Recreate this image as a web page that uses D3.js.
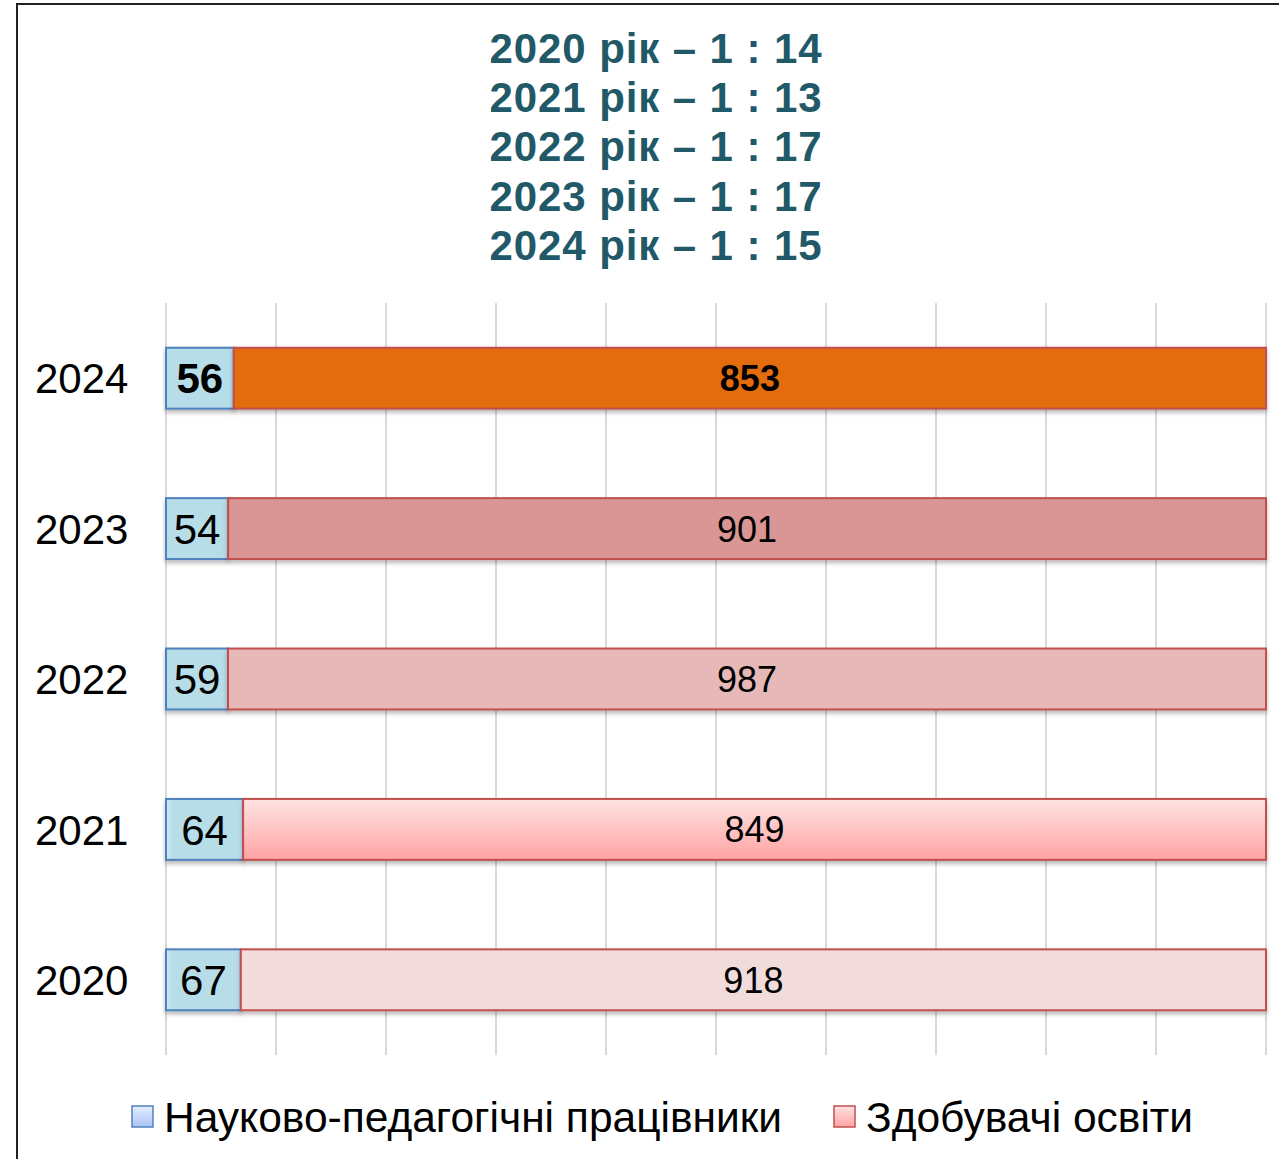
<!DOCTYPE html>
<html><head><meta charset="utf-8">
<script src="https://cdn.jsdelivr.net/npm/d3@7"></script>
<style>html,body{margin:0;padding:0;background:#fff;}svg{display:block;font-family:"Liberation Sans",Arial,sans-serif;}</style>
</head><body>
<svg id="c" width="1279" height="1159"></svg>
<script>
const years = ["2024","2023","2022","2021","2020"];
const staff = [56, 54, 59, 64, 67];
const students = [853, 901, 987, 849, 918];
const titleLines = ["2020 рік – 1 : 14","2021 рік – 1 : 13","2022 рік – 1 : 17","2023 рік – 1 : 17","2024 рік – 1 : 15"];
const seriesNames = ["Науково-педагогічні працівники","Здобувачі освіти"];
const studentFills = ["#e36c0a","#d99694","#e6b9b8","url(#g2021)","#f2dcdb"];
const pctTicks = [0,0.1,0.2,0.3,0.4,0.5,0.6,0.7,0.8,0.9,1];

const svg = d3.select("#c");
const defs = svg.append("defs");
const g21 = defs.append("linearGradient").attr("id","g2021").attr("x1",0).attr("y1",0).attr("x2",0).attr("y2",1);
g21.append("stop").attr("offset","0%").attr("stop-color","#ffe3e3");
g21.append("stop").attr("offset","100%").attr("stop-color","#ffa3a3");
const gb = defs.append("linearGradient").attr("id","gBlueLeg").attr("x1",0).attr("y1",0).attr("x2",0).attr("y2",1);
gb.append("stop").attr("offset","0%").attr("stop-color","#e6eeff");
gb.append("stop").attr("offset","100%").attr("stop-color","#a9c3f5");
const gr = defs.append("linearGradient").attr("id","gRedLeg").attr("x1",0).attr("y1",0).attr("x2",0).attr("y2",1);
gr.append("stop").attr("offset","0%").attr("stop-color","#ffe3e3");
gr.append("stop").attr("offset","100%").attr("stop-color","#ffa3a3");
const gbs = defs.append("linearGradient").attr("id","gBlueSide").attr("x1",0).attr("y1",0).attr("x2",1).attr("y2",0);
gbs.append("stop").attr("offset","0%").attr("stop-color","#d4e6fb");
gbs.append("stop").attr("offset","8%").attr("stop-color","#b7dde8");
gbs.append("stop").attr("offset","92%").attr("stop-color","#b7dde8");
gbs.append("stop").attr("offset","100%").attr("stop-color","#c9dcfa");
const f = defs.append("filter").attr("id","sh").attr("x","-5%").attr("y","-20%").attr("width","110%").attr("height","150%");
f.append("feDropShadow").attr("dx",0).attr("dy",3).attr("stdDeviation",2).attr("flood-color","#000").attr("flood-opacity",0.28);

// frame
svg.append("rect").attr("x",17).attr("y",4).attr("width",1275).attr("height",1170)
  .attr("fill","#fff").attr("stroke","#222").attr("stroke-width",2);

// title
svg.append("g").selectAll("text").data(titleLines).join("text")
  .attr("x",656).attr("y",(d,i)=>63+i*49.2).attr("text-anchor","middle")
  .attr("font-size",42).attr("letter-spacing","0.9px").attr("font-weight","bold").attr("fill","#215968").text(d=>d);

const x = d3.scaleLinear().domain([0,1]).range([166,1266]);
const y = d3.scaleBand().domain(years).range([303,1055]).paddingInner(0.595).paddingOuter(0.2975);

// grid
svg.append("g").selectAll("line").data(pctTicks).join("line")
  .attr("x1",d=>x(d)).attr("x2",d=>x(d)).attr("y1",303).attr("y2",1055)
  .attr("stroke","#d9d9d9").attr("stroke-width",2);

const rows = years.map((yr,i)=>({yr, s:staff[i], t:students[i], tot:staff[i]+students[i], fill:studentFills[i], i}));

const bars = svg.append("g");
rows.forEach(r=>{
  const x0 = x(0), x1 = x(r.s/r.tot), x2 = x(1);
  const yy = y(r.yr), h = y.bandwidth();
  bars.append("rect").attr("x",x0).attr("y",yy).attr("width",x1-x0).attr("height",h)
    .attr("fill",r.i>=3?"url(#gBlueSide)":"#b7dde8").attr("stroke","#4f81bd").attr("stroke-width",2).attr("filter","url(#sh)");
  bars.append("rect").attr("x",x1).attr("y",yy).attr("width",x2-x1).attr("height",h)
    .attr("fill",r.fill).attr("stroke","#c0504d").attr("stroke-width",2).attr("filter","url(#sh)");
  const bold = r.i===0;
  bars.append("text").attr("x",(x0+x1)/2).attr("y",yy+h/2).attr("dy","0.36em").attr("text-anchor","middle")
    .attr("font-size",42).attr("font-weight",bold?"bold":"normal").attr("fill","#000").text(r.s);
  bars.append("text").attr("x",(x1+x2)/2).attr("y",yy+h/2).attr("dy","0.36em").attr("text-anchor","middle")
    .attr("font-size",36).attr("font-weight",bold?"bold":"normal").attr("fill","#000").text(r.t);
});

// y axis labels
const yAxis = d3.axisLeft(y).tickSize(0).tickPadding(0);
const ya = svg.append("g").attr("transform","translate(35,0)").call(yAxis);
ya.select(".domain").remove();
ya.selectAll("text").attr("text-anchor","start").attr("x",0).attr("dy","0.36em")
  .attr("font-size",42).attr("font-family","Liberation Sans, Arial, sans-serif").attr("fill","#000");

// legend
const leg = [{name:seriesNames[0], fill:"url(#gBlueLeg)", stroke:"#4f81bd", x:132},
             {name:seriesNames[1], fill:"url(#gRedLeg)", stroke:"#c0504d", x:834}];
const lg = svg.append("g");
leg.forEach(l=>{
  lg.append("rect").attr("x",l.x).attr("y",1106).attr("width",21).attr("height",21)
    .attr("fill",l.fill).attr("stroke",l.stroke).attr("stroke-width",1.5);
  lg.append("text").attr("x",l.x+32).attr("y",1132).attr("font-size",42.5).attr("fill","#000").text(l.name);
});
</script>
</body></html>
